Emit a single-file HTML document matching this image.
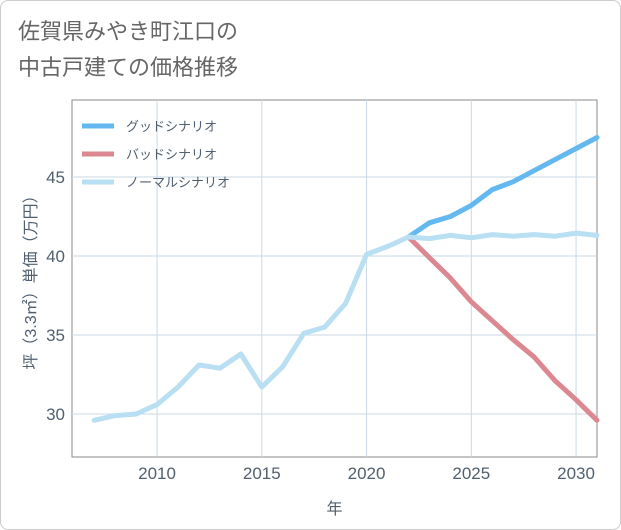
<!DOCTYPE html>
<html><head><meta charset="utf-8">
<style>
body{margin:0;background:#fff;}
#wrap{position:relative;width:621px;height:530px;font-family:"Liberation Sans","Noto Sans CJK JP",sans-serif;}
#card{position:absolute;left:0;top:0;width:619px;height:528px;border:1px solid #ccc;border-radius:8px;background:#fff;}
#title{position:absolute;left:18px;top:14px;font-size:22px;line-height:36px;color:#666;}
</style></head>
<body>
<div id="wrap">
<div id="card"></div>
<div id="title">佐賀県みやき町江口の<br>中古戸建ての価格推移</div>
<svg id="chart" width="621" height="530" style="position:absolute;left:0;top:0"></svg>
</div>
<script>
const years=[2007,2008,2009,2010,2011,2012,2013,2014,2015,2016,2017,2018,2019,2020,2021,2022,2023,2024,2025,2026,2027,2028,2029,2030,2031];
const normalValues=[29.6,29.9,30.0,30.6,31.7,33.1,32.9,33.8,31.7,33.0,35.1,35.5,37.0,40.1,40.6,41.2,41.1,41.3,41.15,41.35,41.25,41.35,41.25,41.45,41.3];
const futureYears=[2022,2023,2024,2025,2026,2027,2028,2029,2030,2031];
const goodValues=[41.2,42.1,42.5,43.2,44.2,44.7,45.4,46.1,46.8,47.5];
const badValues=[41.2,39.9,38.6,37.1,35.9,34.7,33.6,32.1,30.9,29.6];
const xTicks=[2010,2015,2020,2025,2030];
const yTicks=[30,35,40,45];
const legendLabels=["グッドシナリオ","バッドシナリオ","ノーマルシナリオ"];

const L=72,R=597,T=100,B=457,xMin=2005.94,xMax=2031.0,yMin=27.28,yMax=49.87;
const xs=v=>L+(v-xMin)/(xMax-xMin)*(R-L);
const ys=v=>B-(v-yMin)/(yMax-yMin)*(B-T);
const svg=document.getElementById('chart');
const NS='http://www.w3.org/2000/svg';
function mk(tag,attrs,parent){const e=document.createElementNS(NS,tag);for(const k in attrs)e.setAttribute(k,attrs[k]);(parent||svg).appendChild(e);return e;}

const frame=mk('rect',{x:L,y:T,width:R-L,height:B-T,fill:'none',stroke:'#888','stroke-width':1});


xTicks.forEach(t=>{
  const g=mk('line',{x1:xs(t),x2:xs(t),y1:T,y2:B,stroke:'#c9d9e6','stroke-width':1});
  
  
  const lb=mk('text',{x:xs(t),y:B+22,'text-anchor':'middle','font-size':17,fill:'#506070'});
  lb.textContent=t;
  
  
});
yTicks.forEach(t=>{
  const g=mk('line',{x1:L,x2:R,y1:ys(t),y2:ys(t),stroke:'#c9d9e6','stroke-width':1});
  
  
  const lb=mk('text',{x:L-7,y:ys(t)+6,'text-anchor':'end','font-size':17,fill:'#506070'});
  lb.textContent=t;
  
  
});
const xt=mk('text',{x:(L+R)/2,y:514,'text-anchor':'middle','font-size':16,fill:'#506070'});
xt.textContent='年';


const yt=mk('text',{x:0,y:0,'text-anchor':'middle','font-size':16,fill:'#506070',transform:`translate(36,${(T+B)/2}) rotate(-90)`});
yt.textContent='坪（3.3㎡）単価（万円）';



function line(xv,yv,color,name){
  const d=xv.map((x,i)=>(i?'L':'M')+xs(x).toFixed(1)+','+ys(yv[i]).toFixed(1)).join(' ');
  const p=mk('path',{d:d,fill:'none',stroke:color,'stroke-width':5,'stroke-linejoin':'round','stroke-linecap':'round'});
  
  
}
line(futureYears,badValues,'#db8890','bad-scenario-line');
line(futureYears,goodValues,'#62b8ef','good-scenario-line');
line(years,normalValues,'#b9dff2','normal-scenario-line');

const colors=['#62b8ef','#db8890','#b9dff2'];
legendLabels.forEach((lab,i)=>{
  const y=126+i*28;
  const l=mk('line',{x1:82,x2:114,y1:y,y2:y,stroke:colors[i],'stroke-width':5});
  
  
  const t=mk('text',{x:126,y:y+5,'font-size':13,fill:'#506070'});
  t.textContent=lab;
  
  
});
</script>
</body></html>
